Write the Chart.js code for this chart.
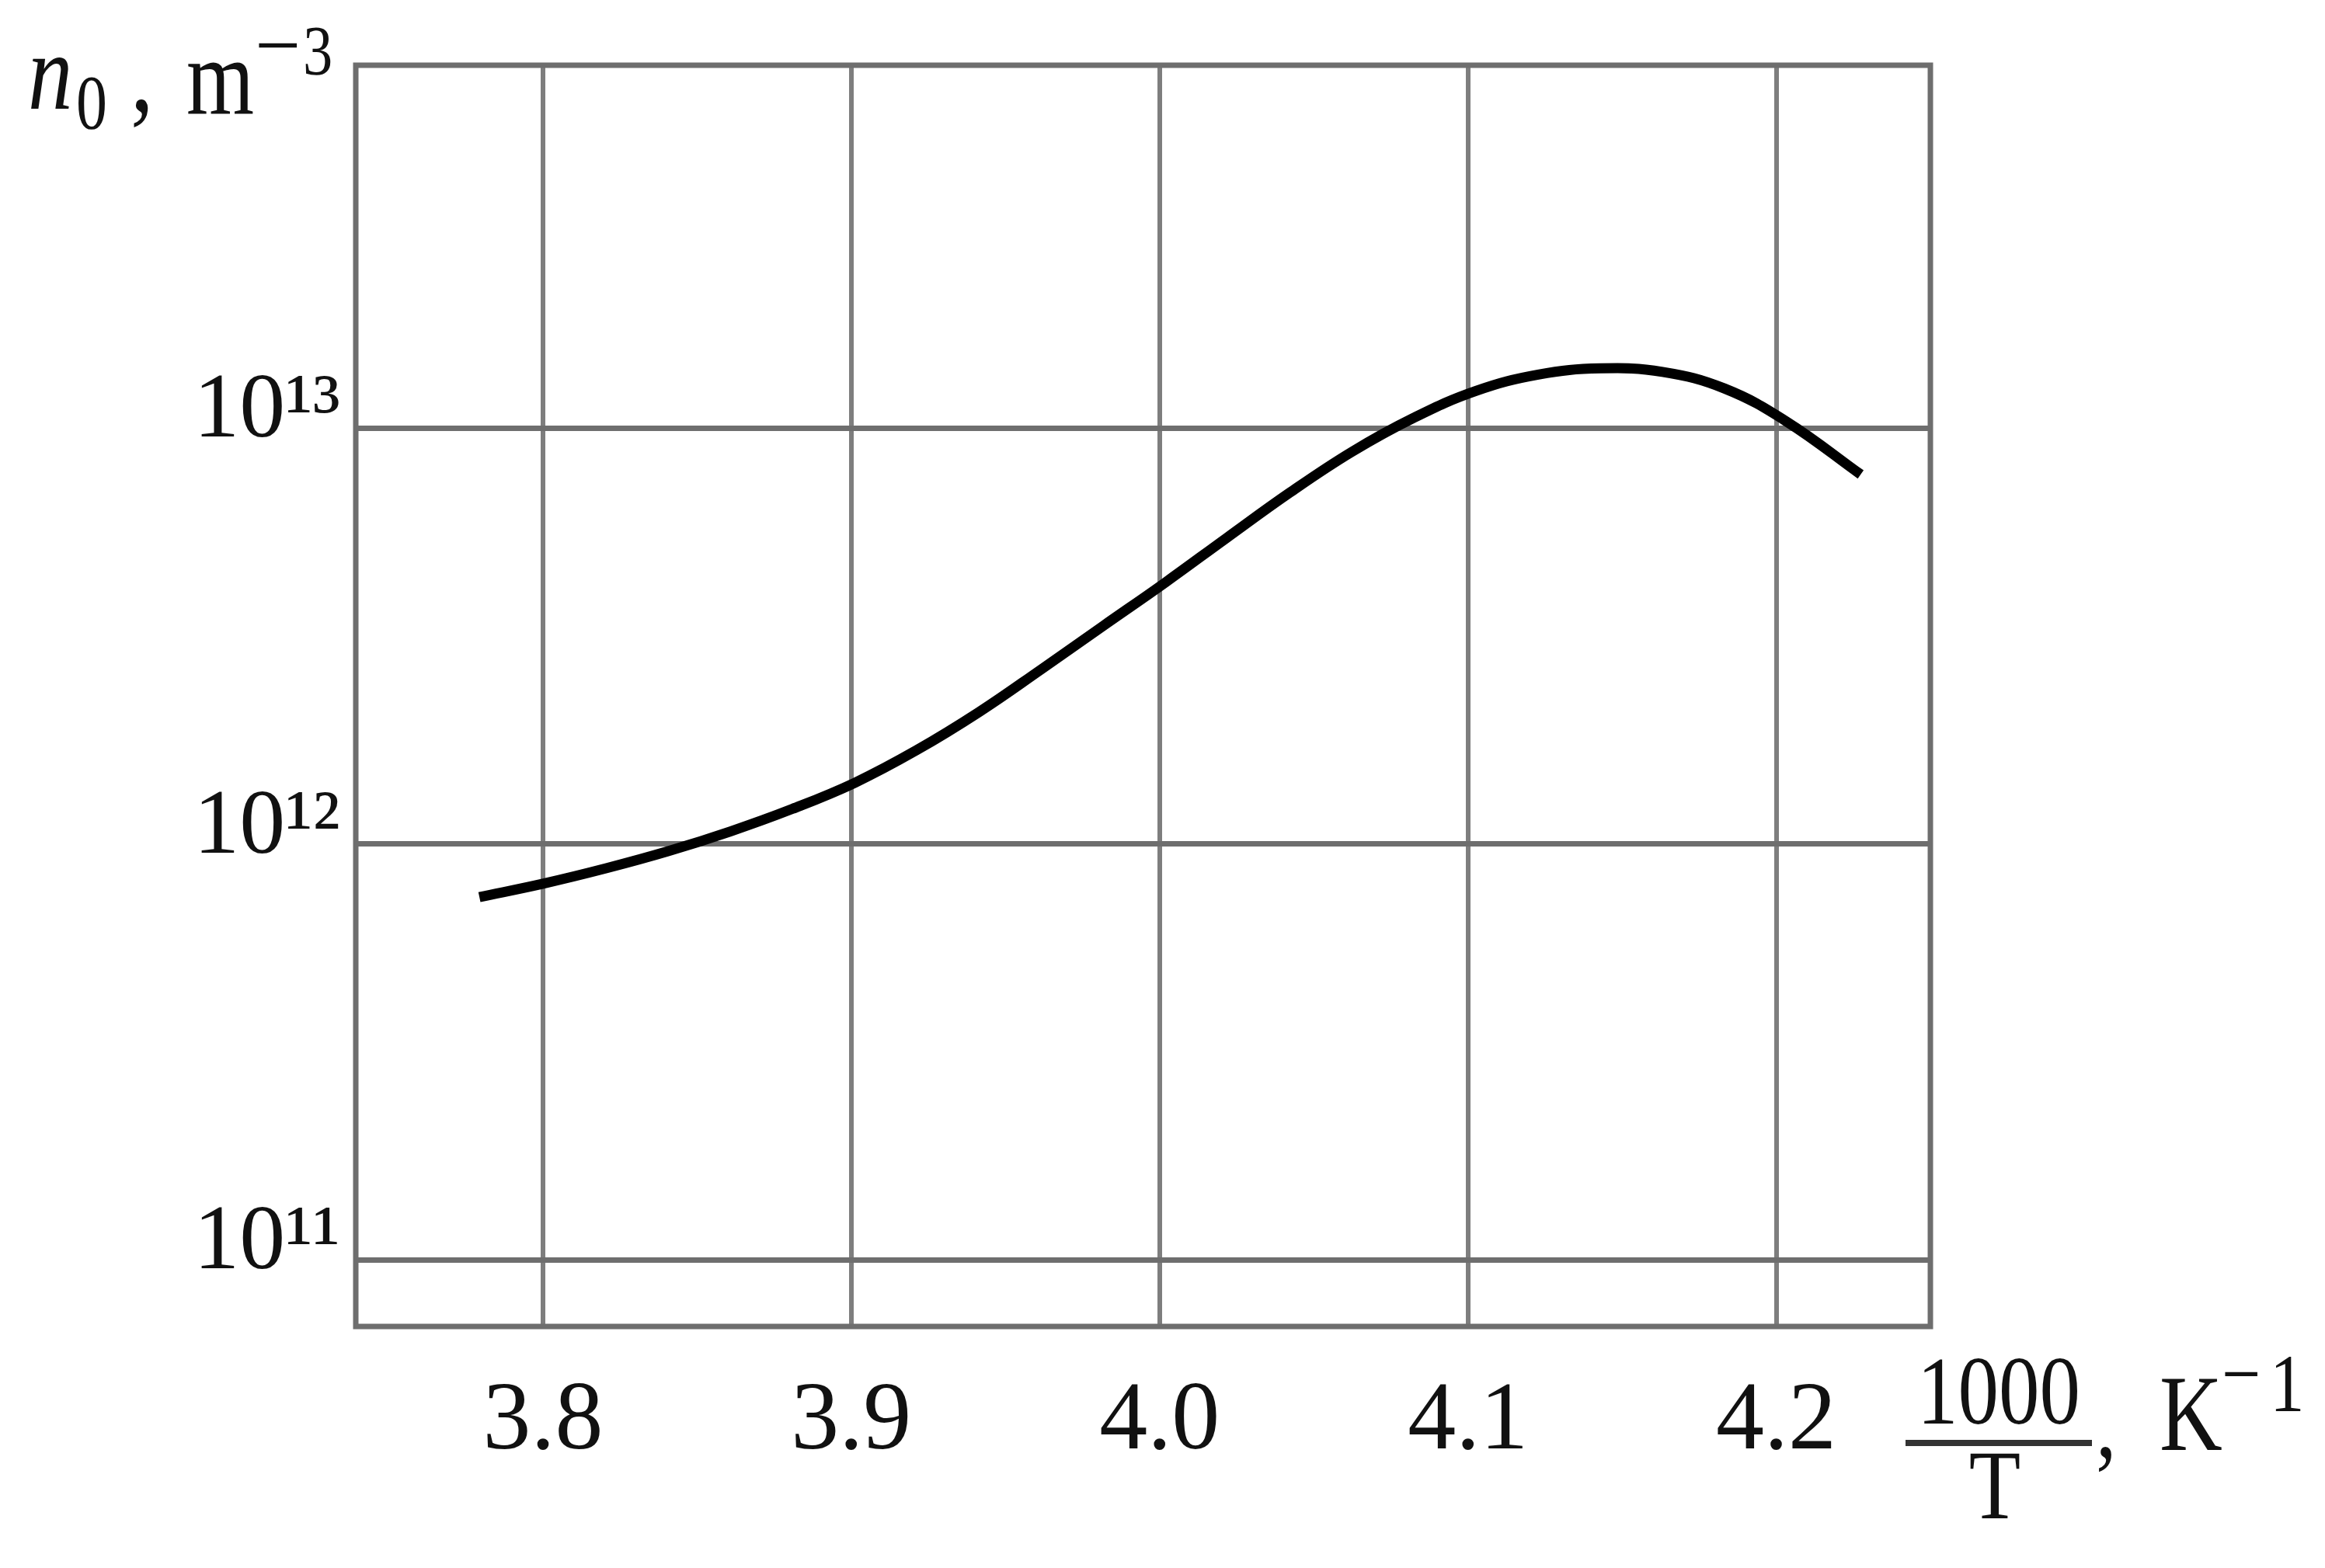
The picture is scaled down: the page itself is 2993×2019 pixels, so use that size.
<!DOCTYPE html>
<html>
<head>
<meta charset="utf-8">
<script src="https://cdn.jsdelivr.net/npm/chart.js@4/dist/chart.umd.min.js"></script>
<style>
  html, body { margin: 0; padding: 0; background: #ffffff; }
  #wrap { width: 2993px; height: 2019px; }
</style>
</head>
<body>
<div id="wrap"><canvas id="c" width="2993" height="2019"></canvas></div>
<script>
// ---- data ----
const invT = [3.7794, 3.8003, 3.8205, 3.8406, 3.8608, 3.8809, 3.9011, 3.9212,
              3.9414, 3.9616, 3.9817, 4.0019, 4.0220, 4.0422, 4.0623, 4.0825,
              4.1026, 4.1228, 4.1430, 4.1631, 4.1833, 4.2034, 4.2274];
const n0 = [7.454e11, 8.036e11, 8.741e11, 9.607e11, 1.0720e12, 1.2143e12, 1.4026e12, 1.6804e12,
            2.0742e12, 2.6277e12, 3.3431e12, 4.2536e12, 5.4576e12, 6.9884e12, 8.757e12, 1.0583e13,
            1.2276e13, 1.3436e13, 1.3906e13, 1.3640e13, 1.2434e13, 1.0358e13, 7.732e12];
const xTicks = [3.8, 3.9, 4.0, 4.1, 4.2];
const xTickLabels = ['3.8', '3.9', '4.0', '4.1', '4.2'];
const yTicks = [1e11, 1e12, 1e13];
const yTickLabels = ['10\u00B9\u00B9', '10\u00B9\u00B2', '10\u00B9\u00B3'];
const xRange = [3.7393, 4.25];
const yRange = [6.92e10, 7.447e13];

const SERIF = "'Liberation Serif', 'Times New Roman', serif";

function txt(ctx, s, font, x, base, sx, align) {
  ctx.save();
  ctx.font = font;
  ctx.fillStyle = '#111111';
  ctx.textBaseline = 'alphabetic';
  ctx.textAlign = align || 'left';
  ctx.translate(x, base);
  ctx.scale(sx, 1);
  ctx.fillText(s, 0, 0);
  ctx.restore();
}

const decor = {
  id: 'decor',
  beforeDraw(chart) {
    const ctx = chart.ctx;
    ctx.save();
    ctx.fillStyle = '#ffffff';
    ctx.fillRect(0, 0, chart.width, chart.height);
    ctx.restore();
  },
  beforeDatasetsDraw(chart) {
    const ctx = chart.ctx, a = chart.chartArea;
    ctx.save();
    ctx.strokeStyle = '#6e6e6e';
    ctx.lineWidth = 7;
    ctx.strokeRect(a.left, a.top, a.right - a.left, a.bottom - a.top);
    ctx.restore();
  },
  afterDraw(chart) {
    const ctx = chart.ctx;
    // y-axis title: n0 , m^-3
    txt(ctx, 'n', 'italic 140px ' + SERIF, 36, 140, 0.82);
    txt(ctx, '0', '100px ' + SERIF, 98, 165, 0.8);
    txt(ctx, ',', '140px ' + SERIF, 168, 142, 0.85);
    txt(ctx, 'm', '140px ' + SERIF, 240, 147, 0.8);
    txt(ctx, '\u2212', '110px ' + SERIF, 328, 95, 0.95);
    txt(ctx, '3', '90px ' + SERIF, 390, 96, 0.85);
    // x-axis title: 1000/T, K^-1
    txt(ctx, '1000', '125px ' + SERIF, 2573, 1833, 0.84, 'center');
    ctx.save();
    ctx.fillStyle = '#333333';
    ctx.fillRect(2453, 1854, 240, 8);
    ctx.restore();
    txt(ctx, 'T', '128px ' + SERIF, 2568, 1955, 0.85, 'center');
    txt(ctx, ',', '125px ' + SERIF, 2698, 1876, 0.85);
    txt(ctx, 'K', '140px ' + SERIF, 2780, 1867, 0.8);
    txt(ctx, '\u2212', '105px ' + SERIF, 2860, 1804, 0.85);
    txt(ctx, '1', '105px ' + SERIF, 2922, 1817, 0.85);
  }
};

new Chart(document.getElementById('c'), {
  type: 'line',
  data: {
    datasets: [{
      data: invT.map((x, i) => ({ x: x, y: n0[i] })),
      borderColor: '#000000',
      borderWidth: 13,
      pointRadius: 0,
      fill: false,
      tension: 0.4,
      borderCapStyle: 'butt'
    }]
  },
  options: {
    responsive: false,
    animation: false,
    devicePixelRatio: 1,
    layout: { padding: { top: 84, right: 508, left: 0, bottom: 0 } },
    plugins: { legend: { display: false }, tooltip: { enabled: false } },
    scales: {
      x: {
        type: 'linear',
        min: xRange[0], max: xRange[1],
        afterBuildTicks: (s) => { s.ticks = xTicks.map(v => ({ value: v })); },
        afterFit: (s) => { s.height = 311; },
        grid: { color: '#7e7e7e', lineWidth: 6, drawTicks: false },
        border: { display: false },
        ticks: {
          padding: 50,
          color: '#111111',
          font: { family: SERIF, size: 124 },
          callback: (v, i) => xTickLabels[i]
        }
      },
      y: {
        type: 'logarithmic',
        min: yRange[0], max: yRange[1],
        afterBuildTicks: (s) => { s.ticks = yTicks.map(v => ({ value: v })); },
        afterFit: (s) => { s.width = 458; s.paddingTop = 0; s.paddingBottom = 0; },
        grid: { color: '#6e6e6e', lineWidth: 7, drawTicks: false },
        border: { display: false },
        ticks: {
          padding: 20,
          labelOffset: -20,
          color: '#111111',
          font: { family: SERIF, size: 118, lineHeight: 0.8 },
          callback: (v, i) => yTickLabels[i]
        }
      }
    }
  },
  plugins: [decor]
});
</script>
</body>
</html>
